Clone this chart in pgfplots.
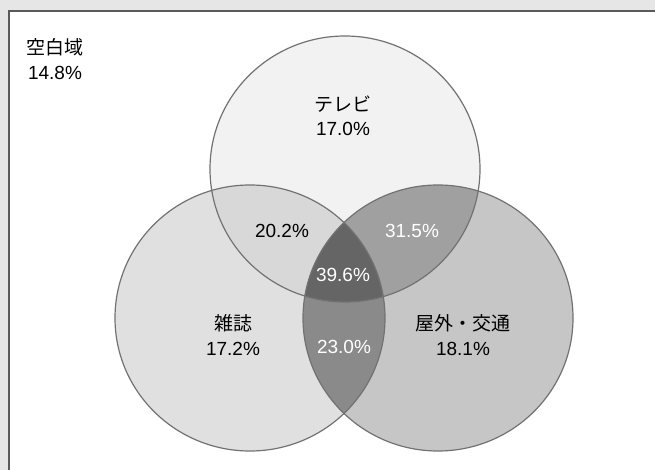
\documentclass[border=0pt]{standalone}
\usepackage{pgfplots}
\pgfplotsset{compat=1.18}
\usepackage{fontspec}
\setmainfont{Liberation Sans}
\newfontfamily\jp{Noto Sans CJK JP}
\definecolor{bgc}{HTML}{E6E6E6}
\definecolor{frame}{HTML}{5A5A5A}
\definecolor{edge}{HTML}{727272}
\definecolor{cT}{HTML}{F2F2F2}
\definecolor{cL}{HTML}{E0E0E0}
\definecolor{cR}{HTML}{C6C6C6}
\definecolor{cTL}{HTML}{D8D8D8}
\definecolor{cTR}{HTML}{A0A0A0}
\definecolor{cLR}{HTML}{8A8A8A}
\definecolor{cTLR}{HTML}{656565}
\begin{document}
\begin{tikzpicture}
\begin{axis}[x=1bp,y=1bp,xmin=0,xmax=655,ymin=0,ymax=470,y dir=reverse,
  hide axis,scale only axis,clip=true,
  lbl/.style={draw=none,mark=none,nodes near coords,point meta=explicit symbolic,
    nodes near coords align=center,
    every node near coord/.append style={anchor=center,align=center,inner sep=0pt,
      font=\fontsize{19bp}{24.5bp}\selectfont}}]
\pgfplotsextra{
  \fill[bgc] (axis cs:0,0) rectangle (axis cs:655,470);
  \fill[white] (axis cs:9,11) rectangle (axis cs:655,470);
  \draw[frame,line width=1.3bp] (axis cs:9,470) -- (axis cs:9,11) -- (axis cs:655,11);
  \fill[cT] (axis cs:345,169) ellipse [x radius=135bp,y radius=133bp];
  \fill[cL] (axis cs:250,318) ellipse [x radius=135bp,y radius=133bp];
  \fill[cR] (axis cs:438,318) ellipse [x radius=135bp,y radius=133bp];
  \begin{scope}
    \clip (axis cs:345,169) ellipse [x radius=135bp,y radius=133bp];
    \fill[cTL] (axis cs:250,318) ellipse [x radius=135bp,y radius=133bp];
    \fill[cTR] (axis cs:438,318) ellipse [x radius=135bp,y radius=133bp];
  \end{scope}
  \begin{scope}
    \clip (axis cs:250,318) ellipse [x radius=135bp,y radius=133bp];
    \fill[cLR] (axis cs:438,318) ellipse [x radius=135bp,y radius=133bp];
  \end{scope}
  \begin{scope}
    \clip (axis cs:345,169) ellipse [x radius=135bp,y radius=133bp];
    \clip (axis cs:250,318) ellipse [x radius=135bp,y radius=133bp];
    \fill[cTLR] (axis cs:438,318) ellipse [x radius=135bp,y radius=133bp];
  \end{scope}
  \draw[edge,line width=1.2bp] (axis cs:345,169) ellipse [x radius=135bp,y radius=133bp];
  \draw[edge,line width=1.2bp] (axis cs:250,318) ellipse [x radius=135bp,y radius=133bp];
  \draw[edge,line width=1.2bp] (axis cs:438,318) ellipse [x radius=135bp,y radius=133bp];
}
\addplot[lbl,every node near coord/.append style={text=black}] coordinates {
 (55,59) [{\jp 空白域}\\14.8\%]
 (343,116) [{\jp テレビ}\\17.0\%]
 (233,335) [{\jp 雑誌}\\17.2\%]
 (463,335) [{\jp 屋外・交通}\\18.1\%]
 (282,231) [20.2\%]
};
\addplot[lbl,every node near coord/.append style={text=white}] coordinates {
 (412,231) [31.5\%]
 (343,275) [39.6\%]
 (344,347) [23.0\%]
};
\end{axis}
\end{tikzpicture}
\end{document}
